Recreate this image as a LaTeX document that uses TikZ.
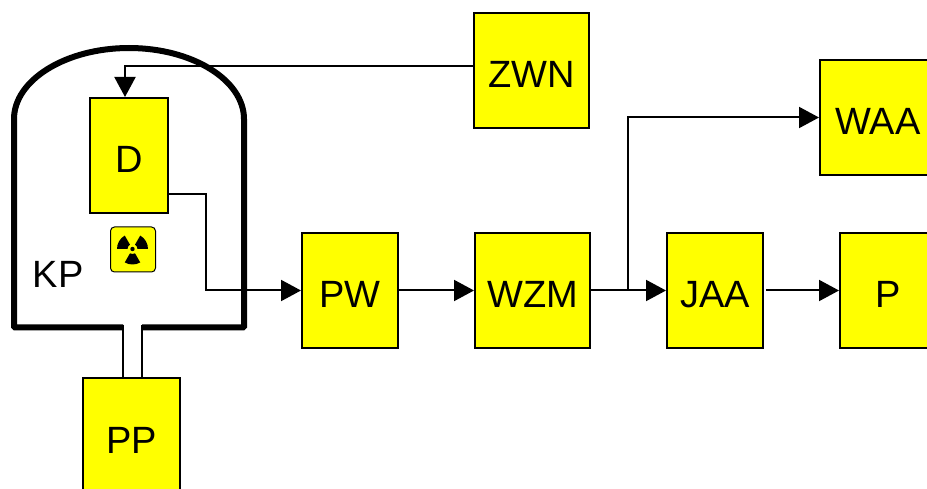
\documentclass[tikz,border=0pt]{standalone}
\usepackage{fontspec}
\setmainfont{Liberation Sans}
\usetikzlibrary{arrows.meta}
\usetikzlibrary{calc}
\definecolor{unitYellow}{RGB}{255,255,0}

\begin{document}
\begin{tikzpicture}[x=1pt, y=1pt,
    unit/.style={draw=black, line width=2pt, fill=unitYellow, inner sep=0pt, minimum height=115pt,
      font=\fontsize{38}{40}\selectfont, text height=35pt, text depth=0pt},
    label/.style={inner sep=0pt, font=\fontsize{38}{40}\selectfont},
    flow/.style={draw=black, line width=2pt, -{Triangle[length=20pt,width=21pt]}},
    pipe/.style={draw=black, line width=2pt},
    vessel/.style={draw=black, line width=6pt, rounded corners=1pt}]

    \useasboundingbox (0,0) rectangle (927,488);
    \clip (0,0) rectangle (927,488);

    % containment
    \def\pipeL{123};
    \def\pipeR{142};
    \def\floor{160.5};
    \draw[vessel] (\pipeL,\floor) -- (14,\floor) -- (14,368)
        arc[start angle=180, end angle=0, x radius=115, y radius=72]
        -- (244,\floor) -- (\pipeR,\floor);

    % units
    \foreach \name/\txt/\px/\py/\w in {ZWN/ZWN/531.5/417.5/115, D/D/129/332.5/78, PW/PW/350/197.5/96,
        WZM/WZM/532.5/197.5/115, JAA/JAA/715/197.5/96, P/P/888/197.5/96,
        WAA/WAA/878/370.5/116, PP/PP/131.5/52.5/97} {
        \node[unit, minimum width=\w pt] (\name) at (\px,\py) {\txt};
    }
    \node[label] (KP) at (58,214) {KP};

    % radiation sign
    \node[draw=black, line width=1pt, fill=unitYellow, rounded corners=4pt, inner sep=0pt, minimum size=45pt] (sign) at (133,238.5) {};
    \foreach \a in {30,150,270} {
        \fill[black] ($(sign.center)+(-0.5,0.5)$) ++(\a-30:5) -- ++(\a-30:10.5)
            arc[start angle=\a-30, delta angle=60, radius=15.5] -- ++(\a+30:-10.5)
            arc[start angle=\a+30, delta angle=-60, radius=5] -- cycle;
    }
    \fill[black] ($(sign.center)+(-0.5,0.5)$) circle (2.2);

    % connectors
    \coordinate (dOut) at (205.5,294);
    \coordinate (tap) at (628,197.5);
    \coordinate (pipeA) at (\pipeL,\floor+2.5);
    \coordinate (pipeB) at (\pipeR,\floor+2.5);

    \draw[flow] ([yshift=4.5]ZWN.west) -| ([xshift=-4]D.north);
    \draw[flow] ([yshift=-38.5]D.east) -- (dOut) |- (PW.west);
    \draw[flow] (PW) -- (WZM);
    \draw[flow] (WZM) -- (JAA);
    \draw[flow] (tap) |- (WAA.west);
    \draw[flow, shorten <=2pt] (JAA) -- (P);
    \draw[pipe] (pipeA) -- (pipeA |- PP.north);
    \draw[pipe] (pipeB) -- (pipeB |- PP.north);

\end{tikzpicture}
\end{document}
